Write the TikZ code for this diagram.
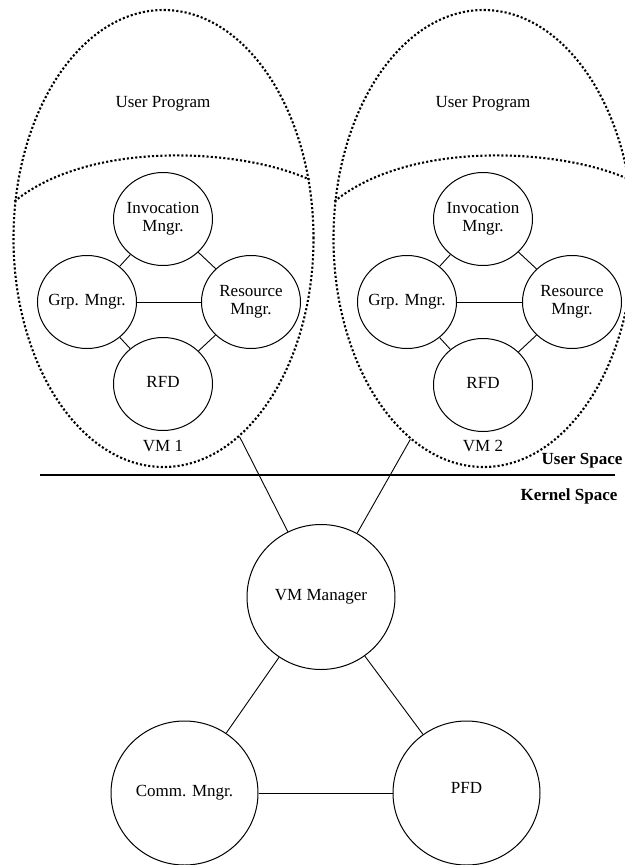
\documentclass[tikz,border=0pt]{standalone}
\usepackage{fontspec}
\setmainfont{Liberation Serif}
\usetikzlibrary{shapes.geometric}
\newcommand{\ztext}[1]{\makebox[0pt]{\begin{tabular}{@{}c@{}}#1\end{tabular}}}
\begin{document}
\begin{tikzpicture}[x=1pt,y=-1pt,
  font=\fontsize{17}{18}\selectfont,
  vmell/.style={ellipse, draw, line width=2.1pt, dash pattern=on 2.1pt off 2.1pt,
    minimum width=300pt, minimum height=457pt, inner sep=0pt},
  divline/.style={line width=2.1pt, dash pattern=on 2.1pt off 2.1pt},
  smallc/.style={ellipse, draw, line width=1pt, inner sep=0pt,
    minimum width=99pt, minimum height=93pt},
  bigc/.style={ellipse, draw, line width=1pt, inner sep=0pt,
    minimum width=147pt, minimum height=144pt},
  conn/.style={line width=0.9pt},
  plain/.style={inner sep=0pt}
]
\useasboundingbox (0,0) rectangle (624,865);

% VM 1
\node[vmell] (vm1) at (163.5,238.5) {};
\draw[divline] (vm1.166) .. controls (90,140) and (240,148) .. (vm1.22);
\node[plain] (up1) at (163,104) {User Program};
\node[smallc] (inv1) at (163,219) {\ztext{Invocation\\Mngr.}};
\node[smallc] (grp1) at (87,302) {\ztext{Grp. Mngr.}};
\node[smallc] (res1) at (251,302) {\ztext{Resource\\Mngr.}};
\node[smallc] (rfd1) at (163,384) {\ztext{RFD}};
\node[plain] (vml1) at (163,446) {VM 1};
\draw[conn] (inv1) -- (grp1);
\draw[conn] (inv1) -- (res1);
\draw[conn] (grp1) -- (res1);
\draw[conn] (grp1) -- (rfd1);
\draw[conn] (res1) -- (rfd1);

% VM 2
\node[vmell] (vm2) at (483.5,238.5) {};
\draw[divline] (vm2.166) .. controls (410,140) and (560,148) .. (vm2.22);
\node[plain] (up2) at (483,104) {User Program};
\node[smallc] (inv2) at (483,219) {\ztext{Invocation\\Mngr.}};
\node[smallc] (grp2) at (407,302) {\ztext{Grp. Mngr.}};
\node[smallc] (res2) at (572,302) {\ztext{Resource\\Mngr.}};
\node[smallc] (rfd2) at (483,385) {\ztext{RFD}};
\node[plain] (vml2) at (483,446) {VM 2};
\draw[conn] (inv2) -- (grp2);
\draw[conn] (inv2) -- (res2);
\draw[conn] (grp2) -- (res2);
\draw[conn] (grp2) -- (rfd2);
\draw[conn] (res2) -- (rfd2);

% separator
\coordinate (sepL) at (40,475);
\coordinate (sepR) at (615,475);
\draw[line width=2.6pt] (sepL) -- (sepR);
\node[plain, font=\fontsize{17}{18}\selectfont\bfseries] (us) at (582,461) {User Space};
\node[plain, font=\fontsize{17}{18}\selectfont\bfseries] (ks) at (569,496) {Kernel Space};

% kernel
\node[bigc, minimum width=148pt, minimum height=145pt] (vmm) at (321,597) {\ztext{VM Manager}};
\node[bigc] (comm) at (184.5,793) {\ztext{Comm. Mngr.}};
\node[bigc] (pfd) at (466.5,793) {\ztext{\raisebox{4pt}{PFD}}};

\draw[conn] (vm1.-69.7) -- (vmm);
\draw[conn] (vm2.-110.6) -- (vmm);
\draw[conn] (vmm) -- (comm);
\draw[conn] (vmm) -- (pfd);
\draw[conn] (comm) -- (pfd);
\end{tikzpicture}
\end{document}
